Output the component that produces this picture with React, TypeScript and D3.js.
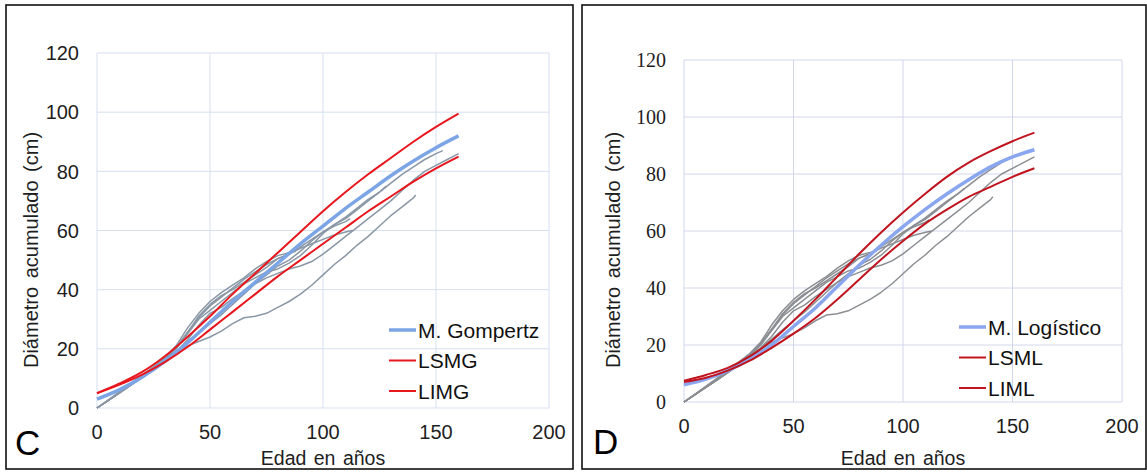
import React from "react";
import * as d3 from "d3";

// ---- model curves (age every 10 years) ----
const modelAges = [0, 10, 20, 30, 40, 50, 60, 70, 80, 90, 100, 110, 120, 130, 140, 150, 160];
const gompertz = [3, 6.2, 10.5, 15.8, 22, 29, 36, 42.5, 49, 55.5, 61.5, 67.5, 73, 78.5, 83.5, 88, 92];
const lsmg = [5, 8.3, 12.2, 17.5, 24, 31, 38.5, 45.5, 52.5, 59.5, 66.5, 73, 79, 84.5, 90, 95, 99.5];
const limg = [5, 7.9, 11.3, 15.5, 20.6, 26.5, 32.5, 38.5, 44.5, 50, 55.5, 61, 66.5, 71.5, 76.5, 81, 85];
const logistico = [6, 8, 11, 15, 20, 26.5, 33, 40.5, 48, 55, 61.5, 67.5, 73, 78, 82.5, 86, 88.5];
const lsml = [7.5, 9.5, 12, 16, 21.5, 28.5, 36, 44, 52, 59.5, 66.5, 73, 79, 84, 88, 91.5, 94.5];
const liml = [7, 8.5, 11, 14.5, 19, 24, 29.5, 36, 43, 50, 56.5, 62.5, 67.5, 72, 75.5, 79, 82];

// ---- individual trees (diameter every 5 years, last value at final age) ----
const treeStep = 5;
const treeEndAges = [113, 112, 141, 160, 153, 128, 88];
const tree1 = [0, 2.6, 5.2, 7.8, 10.5, 13.2, 16.2, 20, 25.5, 30.5, 34.5, 37.5, 40.5, 43.5, 46, 48.5, 50.5, 52, 54, 55.5, 57, 58.5, 59.5, 60];
const tree2 = [0, 2.6, 5.2, 7.8, 10.6, 13.5, 16.5, 20.5, 25.5, 31, 35, 38, 40, 42.5, 45, 47.5, 50.5, 52, 54.5, 57, 59.5, 61.5, 63, 64];
const tree3 = [0, 2.6, 5.1, 7.7, 10.3, 13, 15.7, 18.5, 21, 22.5, 24, 26, 28.5, 30.5, 31, 32, 34, 36, 38.5, 41.5, 45, 48.5, 51.5, 55, 58, 61.5, 65, 68, 71, 72];
const tree4 = [0, 2.6, 5.2, 7.8, 10.4, 13.2, 16, 19, 23, 28, 32, 34, 37, 39.5, 42, 44, 45.5, 47, 48, 49.5, 52, 55, 58, 61, 64, 67, 70, 73.5, 77, 80, 82, 84, 86];
const tree5 = [0, 2.7, 5.4, 8.1, 10.9, 13.7, 16.6, 20, 25, 30, 33, 36, 39, 42, 44, 46, 47, 49, 51.5, 55, 59, 62, 64.5, 67.5, 70.5, 73, 76, 79, 81.5, 84, 86, 87];
const tree6 = [0, 2.6, 5.1, 7.7, 10.3, 13, 16, 18.8, 22, 25.3, 28.5, 31.5, 35, 38.5, 42, 45, 48, 50, 53, 56.5, 59.5, 62, 64, 67, 70, 73, 75];
const tree7 = [0, 2.7, 5.5, 8.3, 11.1, 14, 17, 21, 27, 32, 36, 39, 41.5, 44, 47, 49.5, 51.5, 52.5, 53];
const trees = [tree1, tree2, tree3, tree4, tree5, tree6, tree7];

const xTicks = [0, 50, 100, 150, 200];
const yTicks = [0, 20, 40, 60, 80, 100, 120];

type PanelCfg = {
  frame: [number, number, number, number];
  x0: number; x1: number; yTop: number; yBot: number;
  letter: string; letterX: number; letterY: number;
  yTickFont: string; gridColor: string; grayColor: string;
  blue: string; red: string;
  legend: string[]; legendX: number; legendY: number;
  series: number[][];
  yTitleX: number;
};

function Panel({ c }: { c: PanelCfg }) {
  const x = d3.scaleLinear().domain([0, 200]).range([c.x0, c.x1]);
  const y = d3.scaleLinear().domain([0, 120]).range([c.yBot, c.yTop]);
  const smooth = d3.line<[number, number]>().x(d => x(d[0])).y(d => y(d[1])).curve(d3.curveMonotoneX);
  const raw = d3.line<[number, number]>().x(d => x(d[0])).y(d => y(d[1]));
  const modelPts = (vals: number[]) => vals.map((v, i) => [modelAges[i], v] as [number, number]);
  const treePts = (vals: number[], k: number) =>
    vals.map((v, i) => [i === vals.length - 1 ? treeEndAges[k] : i * treeStep, v] as [number, number]);
  const [fx0, fy0, fx1, fy1] = c.frame;
  const sans = "'Liberation Sans', Arial, sans-serif";
  const legendColors = [c.blue, c.red, c.red];
  const legendWidths = [3.5, 2, 2];
  return (
    <g>
      <rect x={fx0} y={fy0} width={fx1 - fx0} height={fy1 - fy0} fill="#fff" stroke="#111" strokeWidth={1.6} />
      {yTicks.map(t => (
        <line key={"gy" + t} x1={c.x0} x2={c.x1} y1={y(t)} y2={y(t)} stroke={c.gridColor} strokeWidth={1} />
      ))}
      {xTicks.map(t => (
        <line key={"gx" + t} x1={x(t)} x2={x(t)} y1={c.yTop} y2={c.yBot} stroke={c.gridColor} strokeWidth={1} />
      ))}
      {yTicks.map(t => (
        <text key={"ty" + t} x={c.x0 - 18} y={y(t)} dy="0.36em" textAnchor="end" fontFamily={c.yTickFont} fontSize={20} fill="#1e1e1e">{t}</text>
      ))}
      {xTicks.map(t => (
        <text key={"tx" + t} x={x(t)} y={c.yBot + 31} textAnchor="middle" fontFamily={sans} fontSize={20} fill="#1e1e1e">{t}</text>
      ))}
      {trees.map((tr, k) => (
        <path key={"tr" + k} d={raw(treePts(tr, k)) || ""} fill="none" stroke={c.grayColor} strokeWidth={1.5} strokeLinejoin="round" />
      ))}
      <path d={smooth(modelPts(c.series[0])) || ""} fill="none" stroke={c.blue} strokeWidth={3.5} />
      <path d={smooth(modelPts(c.series[1])) || ""} fill="none" stroke={c.red} strokeWidth={2} />
      <path d={smooth(modelPts(c.series[2])) || ""} fill="none" stroke={c.red} strokeWidth={2} />
      {c.legend.map((name, i) => (
        <g key={name}>
          <line x1={c.legendX} x2={c.legendX + 27} y1={c.legendY + i * 30.5} y2={c.legendY + i * 30.5} stroke={legendColors[i]} strokeWidth={legendWidths[i]} />
          <text x={c.legendX + 29} y={c.legendY + i * 30.5} dy="0.36em" fontFamily={sans} fontSize={21} fill="#111">{name}</text>
        </g>
      ))}
      <text x={(c.x0 + c.x1) / 2} y={465} textAnchor="middle" fontFamily={sans} fontSize={19.5} fill="#1e1e1e" wordSpacing={2}>Edad en años</text>
      <text transform={`translate(${c.yTitleX},250) rotate(-90)`} textAnchor="middle" dy="0.36em" fontFamily={sans} fontSize={20} fill="#1e1e1e" wordSpacing={3}>Diámetro acumulado (cm)</text>
      <text x={c.letterX} y={c.letterY} fontFamily={sans} fontSize={35} fill="#000">{c.letter}</text>
    </g>
  );
}

const left: PanelCfg = {
  frame: [6, 5, 573, 469], x0: 97, x1: 549, yTop: 53, yBot: 408,
  letter: "C", letterX: 15, letterY: 455, yTickFont: "'Liberation Sans', Arial, sans-serif",
  gridColor: "#d7e0f0", grayColor: "#8a97a5", blue: "#7ca5e6", red: "#e8161d",
  legend: ["M. Gompertz", "LSMG", "LIMG"], legendX: 389, legendY: 330,
  series: [gompertz, lsmg, limg], yTitleX: 31,
};
const right: PanelCfg = {
  frame: [582, 5, 1146, 469], x0: 684, x1: 1122, yTop: 60, yBot: 402,
  letter: "D", letterX: 593, letterY: 454, yTickFont: "'Liberation Serif', 'Times New Roman', serif",
  gridColor: "#d2d6ec", grayColor: "#8b8e92", blue: "#8aa6ee", red: "#c0141f",
  legend: ["M. Logístico", "LSML", "LIML"], legendX: 959, legendY: 327,
  series: [logistico, lsml, liml], yTitleX: 613,
};

export default function App() {
  return (
    <svg width={1147} height={472} style={{ position: "absolute", left: 0, top: 0, display: "block", background: "#fff" }}>
      <rect x={0} y={0} width={1147} height={472} fill="#fff" />
      <Panel c={left} />
      <Panel c={right} />
    </svg>
  );
}
